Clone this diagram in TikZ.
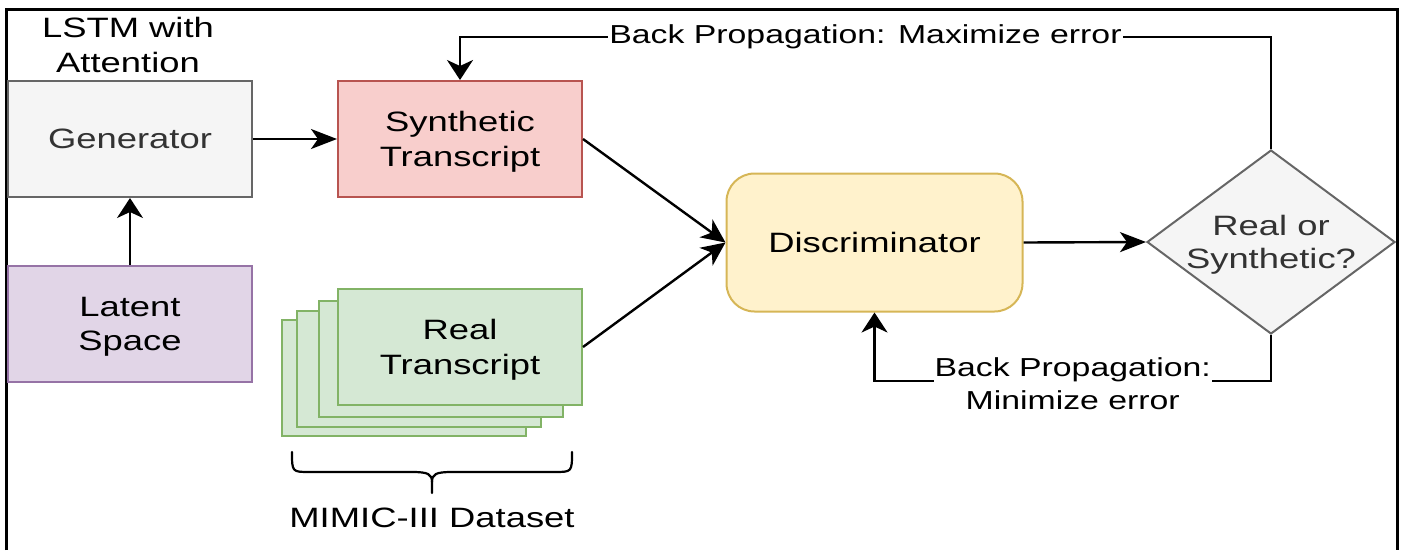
\documentclass[tikz,border=0pt]{standalone}
\usepackage{fontspec}
\setmainfont{Liberation Sans}[FakeStretch=1.3]
\usetikzlibrary{arrows.meta,shapes.geometric,calc}
\newcommand\myNodeFont{\fontsize{28}{34.5}\selectfont}
\newcommand\myLblFont{\fontsize{26}{33}\selectfont}
\definecolor{genfill}{HTML}{F5F5F5}
\definecolor{genline}{HTML}{666666}
\definecolor{gentext}{HTML}{333333}
\definecolor{synfill}{HTML}{F8CECC}
\definecolor{synline}{HTML}{B85450}
\definecolor{realfill}{HTML}{D5E8D4}
\definecolor{realline}{HTML}{82B366}
\definecolor{latfill}{HTML}{E1D5E7}
\definecolor{latline}{HTML}{9673A6}
\definecolor{discfill}{HTML}{FFF2CC}
\definecolor{discline}{HTML}{D6B656}
\begin{document}
\begin{tikzpicture}[x=1pt,y=-1pt,
  box/.style={draw, line width=2pt, minimum width=244pt, minimum height=116pt,
    inner sep=0pt, align=center, font=\myNodeFont, text=black},
  twoline/.style={text depth=0pt},
  harr/.style={line width=2.4pt, -{Stealth[length=26pt,width=20pt,inset=7pt]}},
  varr/.style={line width=2.4pt, -{Stealth[length=20pt,width=26pt,inset=6pt]}},
  darr/.style={line width=2.4pt, -{Stealth[length=24pt,width=22pt,inset=7pt]}},
  lbl/.style={fill=white, inner sep=1pt, font=\myLblFont, align=center, text=black},
  plain/.style={font=\myNodeFont, align=center, text=black}]
\useasboundingbox (0,0) rectangle (1403,550);
% frame
\draw[line width=3pt] (6,550) -- (6,9) -- (1397,9) -- (1397,550);

% nodes
\node[plain] (lstm) at (128,45) {LSTM with\\Attention};
\node[box, fill=genfill, draw=genline, text=gentext] (gen) at (130,139) {Generator};
\node[box, twoline, fill=latfill, draw=latline] (lat) at (130,324) {Latent\\Space};
\node[box, twoline, fill=synfill, draw=synline] (syn) at (460,139) {Synthetic\\Transcript};
\node[box, fill=realfill, draw=realline] (r3) at (404,377.5) {};
\node[box, fill=realfill, draw=realline] (r2) at (419,368.5) {};
\node[box, fill=realfill, draw=realline] (r1) at (441,359) {};
\node[box, twoline, fill=realfill, draw=realline] (real) at (460,347) {Real\\Transcript};
\node[box, rounded corners=28pt, minimum width=296pt, minimum height=138pt,
  fill=discfill, draw=discline] (disc) at (874.5,242.5) {Discriminator};
\node[diamond, draw=genline, fill=genfill, line width=2pt, minimum width=248pt,
  minimum height=184pt, inner sep=0pt] (dec) at (1271,242) {};
\node[plain, text=gentext, font=\fontsize{28}{33}\selectfont] (dectext) at ($(dec.center)+(0,3)$) {Real or\\Synthetic?};
\node[plain] (mimic) at (432,518) {MIMIC-III Dataset};

% connectors
\draw[varr] (lat.north) -- (gen.south);
\draw[harr] (gen.east) -- (syn.west);
\draw[darr] (syn.east) -- (disc.west);
\draw[darr] (real.east) -- (disc.west);
\draw[harr] (disc.east) -- (dec.west);
\coordinate (ty) at (0,37);
\draw[varr] (dec.north) -- (dec.north |- ty)
  -- node[lbl] {Back Propagation: Maximize error} (syn.north |- ty) -- (syn.north);
\coordinate (by) at (0,381);
\draw[varr] (dec.south) -- (dec.south |- by)
  -- node[lbl, yshift=-3pt] {Back Propagation:\\Minimize error} (disc.south |- by) -- (disc.south);

% brace
\draw[line width=2.2pt, line cap=round, line join=round]
  (292,452) .. controls (292,472) and (292,472) .. (310,472) -- (412,472)
  .. controls (428,472) and (432,474) .. (432,482) -- (432,493);
\draw[line width=2.2pt, line cap=round, line join=round]
  (572,452) .. controls (572,472) and (572,472) .. (554,472) -- (452,472)
  .. controls (436,472) and (432,474) .. (432,482);
\end{tikzpicture}
\end{document}
